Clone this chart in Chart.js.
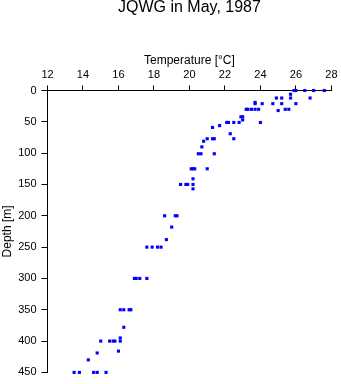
<!DOCTYPE html>
<html>
<head>
<meta charset="utf-8">
<title>JQWG in May, 1987</title>
<script src="https://cdn.jsdelivr.net/npm/chart.js@4/dist/chart.umd.min.js"></script>
<style>
  html, body { margin: 0; padding: 0; background: #fff; }
  #wrap { width: 341px; height: 384px; }
</style>
</head>
<body>
<div id="wrap"><canvas id="profile" width="341" height="384"></canvas></div>
<script>
// temperature profile readings, depth in metres, temperature in degC
const depths = [
  0, 0, 0, 0, 0,
  6,
  12, 12, 12, 12,
  19,
  21, 21, 21, 21, 21,
  30, 30, 30, 30, 30, 30, 30,
  32,
  42, 42,
  47,
  51, 51, 51, 51, 51,
  56, 59, 69,
  77, 77, 77, 77,
  81, 90,
  101, 101, 101,
  125, 125, 125, 125,
  141,
  150, 150, 150, 150,
  157,
  200, 200, 200,
  218, 238,
  250, 250, 250, 250,
  300, 300, 300, 300,
  350, 350, 350, 350,
  378, 395,
  400, 400, 400, 400, 400,
  416, 419, 430,
  450, 450, 450, 450, 450
];
const temps = [
  25.9, 26.0, 26.5, 27.0, 27.6,
  25.7,
  24.9, 25.2, 25.7, 26.8,
  23.7,
  23.7, 24.1, 24.7, 25.2, 26.0,
  23.2, 23.3, 23.5, 23.7, 23.9, 25.4, 25.6,
  25.0,
  22.9, 23.0,
  23.0,
  22.1, 22.2, 22.5, 22.8, 24.0,
  21.7, 21.3, 22.3,
  21.0, 21.3, 21.4, 22.5,
  20.8, 20.7,
  20.5, 20.65, 21.4,
  20.1, 20.2, 20.3, 21.0,
  20.2,
  19.5, 19.8, 19.9, 20.2,
  20.2,
  18.6, 19.2, 19.3,
  19.0, 18.7,
  17.6, 17.9, 18.2, 18.4,
  16.9, 17.0, 17.2, 17.6,
  16.1, 16.3, 16.6, 16.7,
  16.3, 16.1,
  15.0, 15.5, 15.7, 15.8, 16.1,
  16.0, 14.8, 14.3,
  13.5, 13.8, 14.6, 14.8, 15.3
];
const tempRange = [12, 28];
const depthRange = [0, 450];

const FONT = 'Liberation Sans, Arial, Helvetica, sans-serif';
const points = temps.map((t, i) => ({ x: t, y: depths[i] }));

// centre the title over the plot rather than the whole canvas
const titleOverPlot = {
  id: 'titleOverPlot',
  afterLayout(chart) {
    const t = chart.titleBlock;
    if (t) {
      t.left = chart.chartArea.left;
      t.right = chart.chartArea.right;
    }
  }
};

new Chart(document.getElementById('profile'), {
  type: 'scatter',
  data: {
    datasets: [{
      label: 'JQWG',
      data: points,
      clip: false,
      pointStyle: 'rect',
      pointRadius: 2.2,
      pointBorderWidth: 0,
      backgroundColor: '#0000ff',
      borderColor: '#0000ff'
    }]
  },
  plugins: [titleOverPlot],
  options: {
    responsive: false,
    animation: false,
    layout: { padding: { left: 0, right: 8.5, top: 0, bottom: 8.5 } },
    plugins: {
      legend: { display: false },
      tooltip: { enabled: false },
      title: {
        display: true,
        text: 'JQWG in May, 1987',
        color: '#000',
        font: { family: FONT, size: 16, weight: 'normal', lineHeight: 1 },
        padding: { top: 0, bottom: 0 }
      }
    },
    scales: {
      x: {
        type: 'linear',
        position: 'top',
        min: tempRange[0],
        max: tempRange[1],
        afterFit: s => { s.height = 74.5; },
        title: {
          display: true,
          text: 'Temperature [°C]',
          color: '#000',
          font: { family: FONT, size: 12 },
          padding: { top: 37.5, bottom: 0 }
        },
        ticks: {
          stepSize: 2,
          autoSkip: false,
          maxRotation: 0,
          padding: 3.5,
          color: '#000',
          font: { family: FONT, size: 11 }
        },
        grid: { drawOnChartArea: false, drawTicks: true, tickLength: 5, color: '#000' },
        border: { display: true, color: '#000', width: 1 }
      },
      y: {
        type: 'linear',
        position: 'left',
        reverse: true,
        min: depthRange[0],
        max: depthRange[1],
        afterFit: s => { s.width = 47.5; },
        title: {
          display: true,
          text: 'Depth [m]',
          color: '#000',
          font: { family: FONT, size: 12 },
          padding: { top: 0, bottom: 0 }
        },
        ticks: {
          stepSize: 50,
          autoSkip: false,
          padding: 5,
          color: '#000',
          font: { family: FONT, size: 11 }
        },
        grid: { drawOnChartArea: false, drawTicks: true, tickLength: 6, color: '#000' },
        border: { display: true, color: '#000', width: 1 }
      }
    }
  }
});
</script>
</body>
</html>
